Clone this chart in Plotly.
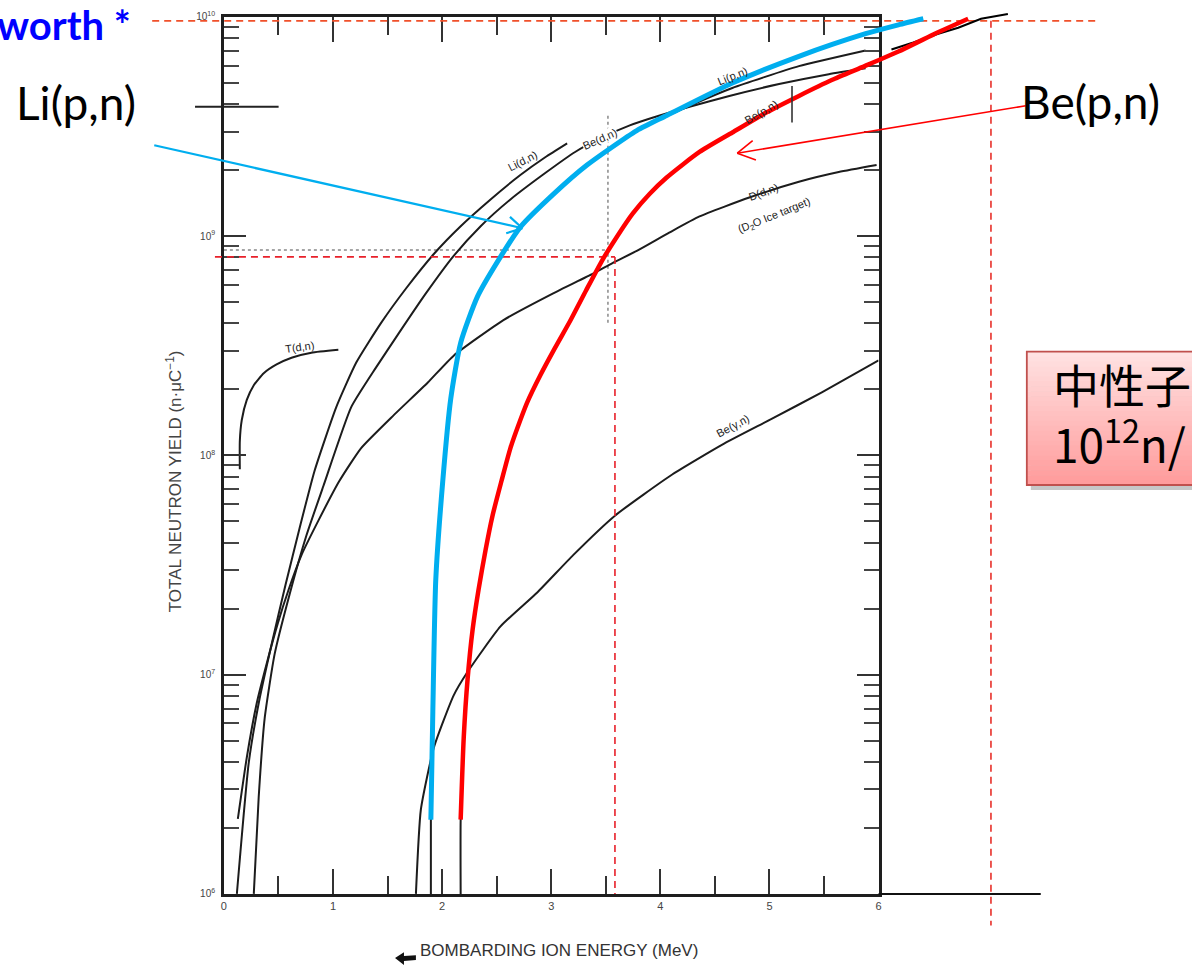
import math
import plotly.graph_objects as go

W, H = 1192, 971

# ---------------- data (energy in MeV, yield in n/uC) ----------------
li_dn_e = [0.119, 0.228, 0.328, 0.438, 0.565, 0.693, 0.830, 1.030, 1.213, 1.441, 1.669, 1.924, 2.170, 2.444, 2.717, 2.945, 3.146]
li_dn_y = [1.0e6, 3.97e6, 7.8e6, 1.38e7, 2.57e7, 4.64e7, 8.47e7, 1.66e8, 2.65e8, 4.02e8, 5.77e8, 8.29e8, 1.11e9, 1.47e9, 1.90e9, 2.29e9, 2.65e9]

be_dn_e = [0.274, 0.319, 0.374, 0.465, 0.602, 0.757, 0.912, 1.167, 1.395, 1.605, 1.851, 2.106, 2.353, 2.626, 2.945, 3.219, 3.447, 3.720, 3.994, 4.268, 4.632, 5.088, 5.544, 5.881]
be_dn_y = [1.0e6, 2.76e6, 6.34e6, 1.24e7, 2.32e7, 4.32e7, 7.25e7, 1.66e8, 2.52e8, 3.62e8, 5.48e8, 8.13e8, 1.11e9, 1.47e9, 1.94e9, 2.42e9, 2.79e9, 3.20e9, 3.55e9, 3.89e9, 4.36e9, 4.94e9, 5.48e9, 5.83e9]

d_dn_e = [0.128, 0.210, 0.301, 0.392, 0.492, 0.593, 0.711, 0.866, 1.058, 1.258, 1.559, 1.869, 2.106, 2.562, 3.018, 3.383, 3.565, 3.784, 4.085, 4.359, 4.815, 5.270, 5.635, 5.982]
d_dn_y = [2.20e6, 4.19e6, 7.40e6, 1.12e7, 1.70e7, 2.44e7, 3.51e7, 5.04e7, 7.64e7, 1.08e8, 1.53e8, 2.15e8, 2.85e8, 4.14e8, 5.48e8, 6.74e8, 7.56e8, 8.56e8, 1.04e9, 1.23e9, 1.50e9, 1.77e9, 1.96e9, 2.11e9]

t_dn_e = [0.146, 0.146, 0.164, 0.210, 0.274, 0.365, 0.483, 0.620, 0.802, 1.049]
t_dn_y = [8.65e7, 1.16e8, 1.45e8, 1.79e8, 2.09e8, 2.37e8, 2.60e8, 2.79e8, 2.94e8, 3.03e8]

li_pn_e = [1.897, 1.897, 1.915, 1.942, 2.006, 2.079, 2.170, 2.325, 2.535, 2.717, 3.018, 3.328, 3.784, 4.268, 4.660, 5.270, 5.881]
li_pn_y = [1.0e6, 2.18e6, 6.81e6, 2.71e7, 7.64e7, 1.75e8, 3.26e8, 5.31e8, 8.04e8, 1.10e9, 1.55e9, 2.11e9, 3.03e9, 3.93e9, 4.74e9, 5.96e9, 7.03e9]

be_pn_e = [2.170, 2.170, 2.198, 2.234, 2.280, 2.334, 2.398, 2.462, 2.544, 2.626, 2.717, 2.781, 2.900, 3.036, 3.173, 3.319, 3.465, 3.611, 3.748, 3.903, 4.058, 4.359, 4.660, 4.970, 5.270, 5.571, 5.872, 6.0]
be_pn_y = [1.0e6, 2.18e6, 5.15e6, 9.6e6, 1.61e7, 2.44e7, 3.70e7, 5.31e7, 7.64e7, 1.08e8, 1.45e8, 1.75e8, 2.32e8, 3.10e8, 4.10e8, 5.65e8, 7.72e8, 1.01e9, 1.27e9, 1.56e9, 1.85e9, 2.42e9, 2.97e9, 3.66e9, 4.36e9, 5.15e9, 5.96e9, 6.34e9]

be_gn_e = [1.760, 1.805, 1.924, 2.106, 2.234, 2.535, 2.872, 3.201, 3.584, 4.112, 4.568, 5.024, 5.480, 6.0]
be_gn_y = [1.0e6, 2.42e6, 4.64e6, 8.04e6, 1.03e7, 1.66e7, 2.37e7, 3.51e7, 5.31e7, 8.2e7, 1.12e8, 1.47e8, 1.94e8, 2.71e8]

# ---------------- highlighted (hand-drawn) overlay curves ----------------
hl_li_e = [1.897, 1.915, 1.942, 2.006, 2.079, 2.170, 2.325, 2.535, 2.717, 3.018, 3.328, 3.784, 4.058, 4.660, 5.270, 5.881, 6.182, 6.410]
hl_li_y = [2.18e6, 6.81e6, 2.71e7, 7.64e7, 1.81e8, 3.26e8, 5.31e8, 8.04e8, 1.10e9, 1.55e9, 2.11e9, 3.03e9, 3.55e9, 4.99e9, 6.61e9, 8.38e9, 9.2e9, 9.8e9]

hl_be_e = [2.170, 2.198, 2.234, 2.280, 2.334, 2.398, 2.462, 2.544, 2.626, 2.717, 2.781, 2.900, 3.036, 3.173, 3.319, 3.465, 3.611, 3.748, 3.903, 4.058, 4.359, 4.660, 4.970, 5.270, 5.571, 5.872, 6.182, 6.501, 6.821]
hl_be_y = [2.18e6, 5.15e6, 9.6e6, 1.61e7, 2.44e7, 3.70e7, 5.31e7, 7.64e7, 1.08e8, 1.45e8, 1.75e8, 2.32e8, 3.10e8, 4.10e8, 5.65e8, 7.72e8, 1.01e9, 1.27e9, 1.56e9, 1.85e9, 2.42e9, 2.97e9, 3.66e9, 4.36e9, 5.15e9, 5.96e9, 6.95e9, 8.30e9, 9.8e9]

scribble_e = [6.118, 6.319, 6.547, 6.730, 6.939, 7.185]
scribble_y = [7.1e9, 7.64e9, 8.38e9, 8.92e9, 9.8e9, 1.03e10]

# reference (dashed) lines
ref_e_low, ref_y_low = 3.584, 8.04e8
ref_e_high, ref_y_high = 7.03, 9.59e9

x_ticks = [0, 1, 2, 3, 4, 5, 6]
y_ticks = [1e6, 1e7, 1e8, 1e9, 1e10]
y_tick_text = ["10<sup>6</sup>", "10<sup>7</sup>", "10<sup>8</sup>", "10<sup>9</sup>", "10<sup>10</sup>"]
y_minor = [k * 10 ** d for d in range(6, 10) for k in range(2, 10)]

curve_labels = [
    ("Li(d,n)", 522, 156, -27, True),
    ("Be(d,n)", 600, 134, -24, True),
    ("Li(p,n)", 733, 70, -22, False),
    ("Be(p,n)", 762, 106, -30, False),
    ("D(d,n)", 764, 187, -20, False),
    ("(D<sub>2</sub>O Ice target)", 775, 212, -22, False),
    ("T(d,n)", 298, 344, -8, False),
    ("Be(γ,n)", 733, 424, -28, False),
]

# ---------------- geometry helpers ----------------
X0, X1 = 222, 880       # pixel positions of 0 and 6 MeV
Y_BOT, Y_TOP = 898, 10  # pixel positions of 1e6 and 1e10
sx = (X1 - X0) / 6.0
sy = (Y_BOT - Y_TOP) / 4.0


def px(x):
    return x / W


def py(y):
    return 1 - y / H


fig = go.Figure()

BLACK = "#1c1c1c"
for e, y in [(li_dn_e, li_dn_y), (be_dn_e, be_dn_y), (d_dn_e, d_dn_y), (t_dn_e, t_dn_y),
             (li_pn_e, li_pn_y), (be_pn_e, be_pn_y), (be_gn_e, be_gn_y)]:
    fig.add_trace(go.Scatter(x=e, y=y, mode="lines", line=dict(color=BLACK, width=2, shape="spline", smoothing=0.5),
                             xaxis="x", yaxis="y", showlegend=False, hoverinfo="skip"))

# overlay subplot covering the whole canvas with the same scale
ov = dict(xaxis="x2", yaxis="y2", showlegend=False, hoverinfo="skip", mode="lines")
fig.add_trace(go.Scatter(x=[-0.657, 8.006], y=[ref_y_high, ref_y_high], line=dict(color="#F0502A", width=1.6, dash="7px,5px"), **ov))
fig.add_trace(go.Scatter(x=[ref_e_high, ref_e_high], y=[ref_y_high, 7.18e5], line=dict(color="#E8302A", width=1.6, dash="7px,5px"), **ov))
fig.add_trace(go.Scatter(x=[-0.082, ref_e_low], y=[ref_y_low, ref_y_low], line=dict(color="#E8202A", width=1.6, dash="7px,5px"), **ov))
fig.add_trace(go.Scatter(x=[ref_e_low, ref_e_low], y=[ref_y_low, 1e6], line=dict(color="#E8202A", width=1.6, dash="7px,5px"), **ov))
fig.add_trace(go.Scatter(x=scribble_e, y=scribble_y, line=dict(color="black", width=2), **ov))
fig.add_trace(go.Scatter(x=hl_li_e, y=hl_li_y, line=dict(color="#00AEEF", width=5, shape="spline", smoothing=0.6), **ov))
fig.add_trace(go.Scatter(x=hl_be_e, y=hl_be_y, line=dict(color="#FF0000", width=4.5, shape="spline", smoothing=0.6), **ov))

shapes = []


def line(x0, y0, x1, y1, color, width, dash=None, layer="above"):
    d = dict(type="line", xref="paper", yref="paper", x0=px(x0), y0=py(y0), x1=px(x1), y1=py(y1),
             line=dict(color=color, width=width), layer=layer)
    if dash:
        d["line"]["dash"] = dash
    shapes.append(d)


def arrow(tx, ty, hx, hy, color, width, head):
    line(tx, ty, hx, hy, color, width)
    dx, dy = tx - hx, ty - hy
    n = math.hypot(dx, dy)
    ux, uy = dx / n, dy / n
    for s in (1, -1):
        c, si = math.cos(math.radians(30)), math.sin(math.radians(30)) * s
        wx, wy = ux * c - uy * si, ux * si + uy * c
        line(hx, hy, hx + wx * head, hy + wy * head, color, width)


# scan artifacts
line(193, 101, 277, 101, "#222", 2)
line(222, 246, 610, 246, "#888", 1.5, dash="dot", layer="below")
line(608, 110, 608, 320, "#888", 1.5, dash="dot", layer="below")
line(793, 80, 793, 117, "#333", 1.6)
line(880, 898, 1043, 898, "#111", 2)

# arrows
arrow(152, 140, 522, 224, "#00AEEF", 2.2, 17)
arrow(1028, 100, 738, 148, "#FF0000", 1.6, 20)

# pink gradient box (shadow + strips + border)
bx0, by0, bx1, by1 = 1029, 349, 1205, 484
shapes.append(dict(type="rect", xref="paper", yref="paper", x0=px(bx0 + 4), y0=py(by1 + 5), x1=px(bx1 + 4), y1=py(by0 + 5),
                   fillcolor="rgba(0,0,0,0.22)", line=dict(width=0)))
n_strips = 27
for i in range(n_strips):
    t = i / (n_strips - 1)
    g = int(226 - 70 * t)
    ya = by0 + (by1 - by0) * i / n_strips
    yb = by0 + (by1 - by0) * (i + 1) / n_strips + 0.6
    shapes.append(dict(type="rect", xref="paper", yref="paper", x0=px(bx0), x1=px(bx1), y0=py(yb), y1=py(ya),
                       fillcolor=f"rgb(255,{g},{g})", line=dict(width=0)))
shapes.append(dict(type="rect", xref="paper", yref="paper", x0=px(bx0), y0=py(by1), x1=px(bx1), y1=py(by0),
                   line=dict(color="#C0504D", width=1.8), fillcolor="rgba(0,0,0,0)"))

# small arrow glyph before the x title
shapes.append(dict(type="path", xref="paper", yref="paper",
                   path=f"M {px(394)} {py(963)} L {px(403)} {py(957)} L {px(403)} {py(961)} L {px(415)} {py(960)} "
                        f"L {px(415)} {py(965)} L {px(403)} {py(966)} L {px(403)} {py(970)} Z",
                   fillcolor="#111", line=dict(width=0)))

annotations = []


def text(s, x, y, size, color="#000", family="Lato", xanchor="center", angle=0, bg=None, weight=None):
    f = dict(size=size, color=color, family=family)
    if weight:
        f["weight"] = weight
    a = dict(text=s, x=px(x), y=py(y), xref="paper", yref="paper", showarrow=False, font=f,
             xanchor=xanchor, yanchor="middle", textangle=angle)
    if bg:
        a["bgcolor"] = bg
        a["borderpad"] = 0
    annotations.append(a)


text("worth *", 131, 18, 40, color="#0000FF", xanchor="right", weight="bold")
text("Li(p,n)", 11, 97, 46, xanchor="left")
text("Be(p,n)", 1021, 96, 46, xanchor="left")
annotations.append(dict(text="中性子<br>10<sup>12</sup>n/", x=px(1053), y=py(411), xref="paper", yref="paper",
                        showarrow=False, xanchor="left", yanchor="middle", align="left",
                        font=dict(size=46, color="#000", family="Noto Sans CJK JP")))

for s, x, y, ang, bg in curve_labels:
    text(s, x, y, 11, color="#222", family="Liberation Sans", angle=ang, bg="white" if bg else None)

text("TOTAL NEUTRON YIELD (n·μC<sup>−1</sup>)", 172, 480, 17, color="#444", family="Liberation Sans", angle=-90)
text("BOMBARDING ION ENERGY (MeV)", 417, 955, 17, color="#333", family="Liberation Sans", xanchor="left")

x2_range = [(0 - X0) / sx, (W - X0) / sx]
y2_range = [6 - (H - Y_BOT) / sy, 10 + Y_TOP / sy]

fig.update_layout(
    width=W, height=H, autosize=False,
    margin=dict(l=0, r=0, t=0, b=0),
    paper_bgcolor="white", plot_bgcolor="rgba(0,0,0,0)",
    showlegend=False,
    xaxis=dict(domain=[X0 / W, X1 / W], range=[0, 6], anchor="y",
               showline=True, linewidth=2.5, linecolor="#1e1e1e", mirror="allticks",
               ticks="inside", ticklen=25, tickwidth=2, tickcolor="#333",
               tickvals=x_ticks, ticktext=[str(v) for v in x_ticks],
               minor=dict(dtick=0.5, tick0=0, ticks="inside", ticklen=18, tickwidth=2, tickcolor="#333"),
               showgrid=False, zeroline=False, tickfont=dict(size=11, color="#444", family="Liberation Sans")),
    yaxis=dict(domain=[(H - Y_BOT) / H, (H - Y_TOP) / H], type="log", range=[6, 10], anchor="x",
               showline=True, linewidth=2.5, linecolor="#1e1e1e", mirror="allticks",
               ticks="inside", ticklen=22, tickwidth=2, tickcolor="#333",
               tickvals=y_ticks, ticktext=y_tick_text,
               minor=dict(tickvals=y_minor, ticks="inside", ticklen=15, tickwidth=2, tickcolor="#444"),
               showgrid=False, zeroline=False, ticklabelstandoff=4,
               tickfont=dict(size=10, color="#444", family="Liberation Sans")),
    xaxis2=dict(domain=[0, 1], range=x2_range, anchor="y2", visible=False, showgrid=False, zeroline=False),
    yaxis2=dict(domain=[0, 1], type="log", range=y2_range, anchor="x2", visible=False, showgrid=False, zeroline=False),
    shapes=shapes,
    annotations=annotations,
)

fig.write_html("out.html", config={"displayModeBar": False},
               post_script="document.body.style.margin='0';document.body.style.overflow='hidden';")
